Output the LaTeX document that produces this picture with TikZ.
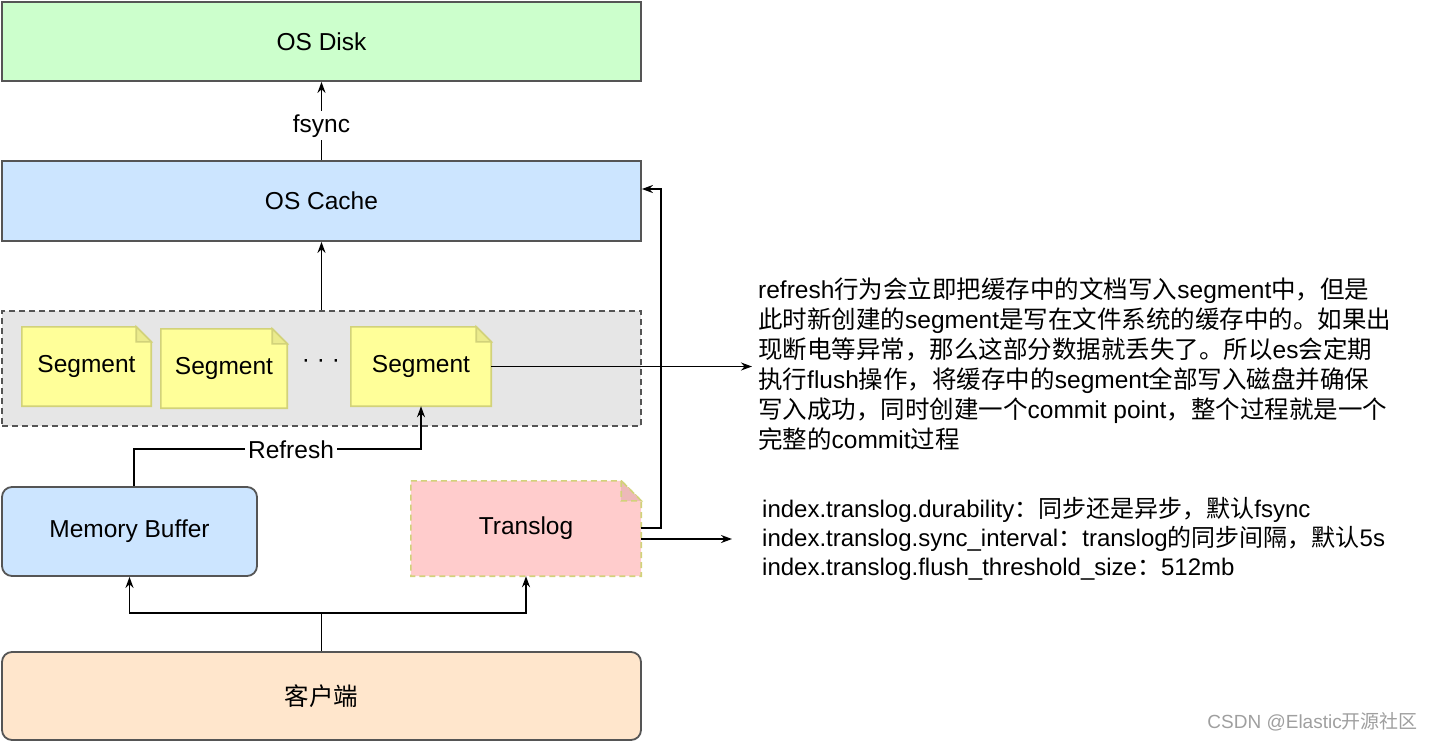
\documentclass[tikz,border=0pt]{standalone}
\usepackage{fontspec}
\setmainfont{Liberation Sans}
\newfontfamily\cjk{Noto Sans CJK SC}
\usetikzlibrary{arrows.meta}
\newcommand\zh[1]{{\cjk #1}}
\definecolor{diskfill}{HTML}{CCFFCC}
\definecolor{cachefill}{HTML}{CCE5FF}
\definecolor{groupfill}{HTML}{E6E6E6}
\definecolor{segfill}{HTML}{FFFF99}
\definecolor{segline}{HTML}{D2D27A}
\definecolor{segfold}{HTML}{EBEB8C}
\definecolor{logfill}{HTML}{FFCCCC}
\definecolor{logfold}{HTML}{EDB9B9}
\definecolor{clientfill}{HTML}{FFE6CC}
\definecolor{boxline}{HTML}{555555}
\pgfdeclarelayer{bg}
\pgfsetlayers{bg,main}
\newcommand\notepath[4]{% name, fold, fill, extra
  \path[fill=#3,draw=segline,line width=1.6pt,#4] (#1.north west) -- ([xshift=-#2]#1.north east) -- ([yshift=-#2]#1.north east) -- (#1.south east) -- (#1.south west) -- cycle;
}
\newcommand\notefold[4]{%
  \path[fill=#3,draw=segline,line width=1.6pt,#4] ([xshift=-#2]#1.north east) -- ([xshift=-#2,yshift=-#2]#1.north east) -- ([yshift=-#2]#1.north east) -- cycle;
}
\begin{document}
\begin{tikzpicture}[x=1pt,y=-1pt,
  font=\fontsize{24.5}{28}\selectfont,
  mybox/.style={draw=boxline,line width=1.8pt,minimum width=639pt,inner sep=0pt},
  segnode/.style={inner sep=0pt},
  lab/.style={fill=white,inner sep=3pt},
  txt/.style={align=left,inner sep=0pt,font=\fontsize{24.5}{30}\selectfont},
  arr/.style={line width=1.7pt,-{Stealth[length=11pt,width=8pt]}},
  dsh/.style={dash pattern=on 6pt off 4pt}]
\useasboundingbox (0,0) rectangle (1432,742);

\node[mybox,fill=diskfill,minimum height=79pt] (disk) at (321.5,41.5) {OS Disk};
\node[mybox,fill=cachefill,minimum height=80pt] (cache) at (321.5,201) {OS Cache};

\node[segnode,minimum width=129pt,minimum height=79pt] (s1) at (86.5,366.5) {Segment};
\node[segnode,minimum width=126pt,minimum height=79pt] (s2) at (224,368.5) {Segment};
\node[segnode,minimum width=140pt,minimum height=79pt] (s3) at (421,366.5) {Segment};
\node[inner sep=0pt] (dots) at (321,364) {· · ·};

\node[mybox,fill=cachefill,rounded corners=10pt,minimum width=255pt,minimum height=89pt] (mem) at (129.5,531.5) {Memory Buffer};
\node[segnode,minimum width=230pt,minimum height=95pt] (log) at (526,528.5) {Translog};
\node[mybox,fill=clientfill,rounded corners=10pt,minimum height=88pt] (client) at (321.5,696) {\zh{客户端}};

\begin{pgfonlayer}{bg}
  \node[draw=boxline,line width=1.8pt,dsh,fill=groupfill,minimum width=639pt,minimum height=115pt] (grp) at (321.5,368.5) {};
  \foreach \n in {s1,s2,s3} {\notepath{\n}{15pt}{segfill}{} \notefold{\n}{15pt}{segfold}{}}
  \notepath{log}{20pt}{logfill}{dsh}
  \notefold{log}{20pt}{logfold}{dsh}
\end{pgfonlayer}

\draw[arr] (cache.north) -- node[lab,pos=0.44] (fs) {fsync} (disk.south);
\draw[arr] (grp.north) -- (cache.south);

\coordinate (n1) at (752,366.5);
\draw[arr] (s3.east) -- (n1);

\draw[arr] ([xshift=4.5pt]mem.north) -- ++(0,-37) -| (s3.south);
\node[lab] (rlab) at (291,450) {Refresh};

\draw[arr] (client.north) -- ++(0,-38) -| (mem.south);
\draw[arr] (client.north) -- ++(0,-38) -| (log.south);

\draw[arr] ([yshift=0.5pt]log.east) -- ++(20,0) |- ([yshift=12pt]cache.east);
\coordinate (n2) at (732,539);
\draw[arr] ([yshift=-10.5pt]log.east) -- (n2);

\node[txt,anchor=north west] (note1) at (758,278) {refresh\zh{行为会立即把缓存中的文档写入}segment\zh{中，但是}\\
\zh{此时新创建的}segment\zh{是写在文件系统的缓存中的。如果出}\\
\zh{现断电等异常，那么这部分数据就丢失了。所以}es\zh{会定期}\\
\zh{执行}flush\zh{操作，将缓存中的}segment\zh{全部写入磁盘并确保}\\
\zh{写入成功，同时创建一个}commit point\zh{，整个过程就是一个}\\
\zh{完整的}commit\zh{过程}};

\node[txt,anchor=north west,font=\fontsize{24}{29}\selectfont] (note2) at (762,497) {index.translog.durability\zh{：同步还是异步，默认}fsync\\
index.translog.sync\_interval\zh{：}translog\zh{的同步间隔，默认}5s\\
index.translog.flush\_threshold\_size\zh{：}512mb};

\node[anchor=east,inner sep=0pt,text=gray!75,font=\fontsize{19}{21}\selectfont] (wm) at (1418,722) {CSDN @Elastic\zh{开源社区}};
\end{tikzpicture}
\end{document}
